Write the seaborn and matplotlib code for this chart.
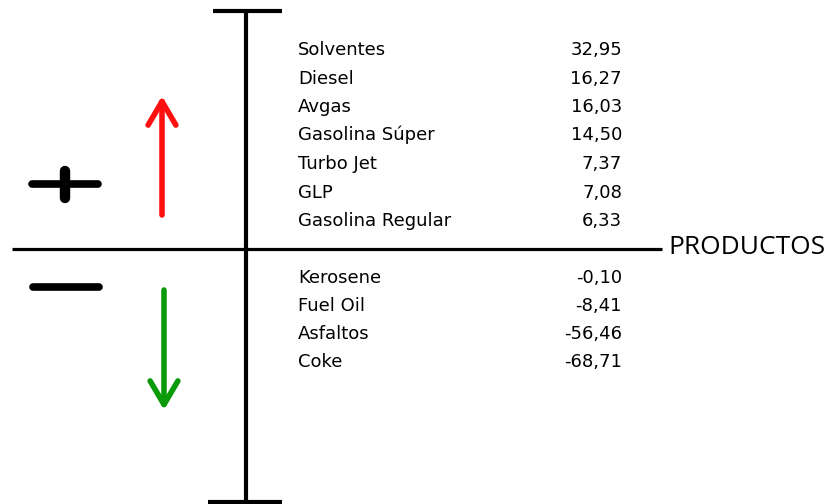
import matplotlib.pyplot as plt
import seaborn as sns

sns.set_theme(style="white")
plt.rcParams['font.family'] = ['DejaVu Sans']
plt.rcParams['text.color'] = 'black'

# --- Daten ---
productos_pos = ["Solventes", "Diesel", "Avgas", "Gasolina Súper",
                 "Turbo Jet", "GLP", "Gasolina Regular"]
valores_pos = [32.95, 16.27, 16.03, 14.50, 7.37, 7.08, 6.33]
productos_neg = ["Kerosene", "Fuel Oil", "Asfaltos", "Coke"]
valores_neg = [-0.10, -8.41, -56.46, -68.71]


def fmt(v):
    return f"{v:.2f}".replace(".", ",")


fig = plt.figure(figsize=(8.32, 5.04), dpi=100)
ax = fig.add_axes([0, 0, 1, 1])
ax.set_xlim(0, 832)
ax.set_ylim(504, 0)
ax.axis("off")

# Achsenkreuz
ax.plot([246, 246], [11, 502], color="black", lw=3.0, solid_capstyle="butt")
ax.plot([213, 282], [11, 11], color="black", lw=3.0, solid_capstyle="butt")
ax.plot([208, 282], [502, 502], color="black", lw=3.0, solid_capstyle="butt")
ax.plot([12, 662], [249, 249], color="black", lw=2.3, solid_capstyle="butt")
ax.text(668, 248, "PRODUCTOS", family=["Open Sans", "DejaVu Sans"],
        fontsize=19, ha="left", va="center", color="black")

# Plus / Minus
ax.plot([32, 98], [184, 184], color="black", lw=5.5, solid_capstyle="round")
ax.plot([65, 65], [171, 198], color="black", lw=7.5, solid_capstyle="round")
ax.plot([33, 99], [287, 287], color="black", lw=5.5, solid_capstyle="round")

# Pfeile
ax.annotate("", xy=(162, 96), xytext=(162, 215),
            arrowprops=dict(arrowstyle="->,head_length=0.85,head_width=0.5",
                            color="#ff1010", lw=4.0, mutation_scale=20,
                            shrinkA=0, shrinkB=0))
ax.annotate("", xy=(164, 410), xytext=(164, 290),
            arrowprops=dict(arrowstyle="->,head_length=0.85,head_width=0.5",
                            color="#0a9a0a", lw=4.0, mutation_scale=20,
                            shrinkA=0, shrinkB=0))

# Tabelle (Grundlinie)
for i, (p, v) in enumerate(zip(productos_pos, valores_pos)):
    y = 55 + i * 28.5
    ax.text(298, y, p, fontsize=13, ha="left", va="baseline", color="black")
    ax.text(622, y, fmt(v), fontsize=13, ha="right", va="baseline", color="black")

for i, (p, v) in enumerate(zip(productos_neg, valores_neg)):
    y = 283 + i * 28
    ax.text(298, y, p, fontsize=13, ha="left", va="baseline", color="black")
    ax.text(622, y, fmt(v), fontsize=13, ha="right", va="baseline", color="black")

fig.savefig("out.png", dpi=100, facecolor="white")
